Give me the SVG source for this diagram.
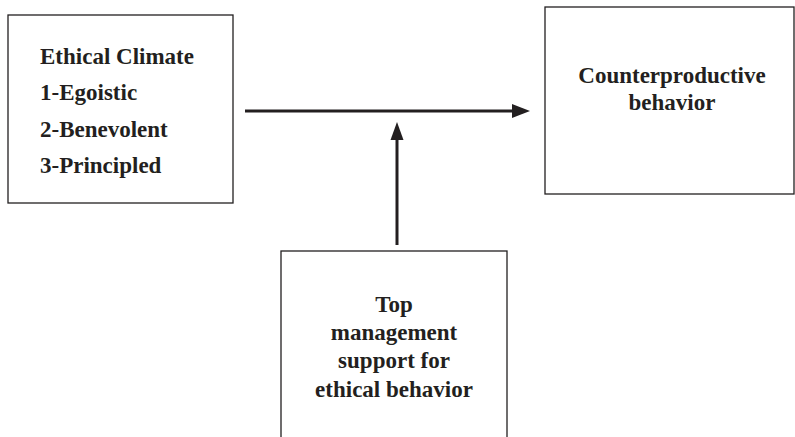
<svg xmlns="http://www.w3.org/2000/svg" width="795" height="437" viewBox="0 0 795 437">
<style>
.box{fill:#fff;stroke:#231f20;stroke-width:1.3}
.t{font-family:"Liberation Serif","Times New Roman",serif;font-weight:bold;font-size:23px;fill:#231f20}
.c{text-anchor:middle}
.ln{stroke:#231f20;stroke-width:3;fill:none}
.hd{fill:#231f20}
</style>
<rect width="795" height="437" fill="#fff"/>
<g id="ethical-climate">
<rect class="box" x="8" y="15" width="225" height="188"/>
<text class="t" x="40" y="64">Ethical Climate</text>
<text class="t" x="40" y="100">1-Egoistic</text>
<text class="t" x="40" y="137">2-Benevolent</text>
<text class="t" x="40" y="173">3-Principled</text>
</g>
<g id="counterproductive">
<rect class="box" x="545" y="7" width="249" height="187"/>
<text class="t c" x="672" y="83">Counterproductive</text>
<text class="t c" x="672" y="110">behavior</text>
</g>
<g id="top-management">
<rect class="box" x="281" y="251" width="226" height="200"/>
<text class="t c" x="394" y="312">Top</text>
<text class="t c" x="394" y="340">management</text>
<text class="t c" x="394" y="368">support for</text>
<text class="t c" x="394" y="397">ethical behavior</text>
</g>
<g id="connectors">
<line class="ln" x1="245" y1="111" x2="514" y2="111"/>
<polygon class="hd" points="530,111 512,104 512,118"/>
<line class="ln" x1="397" y1="245" x2="397" y2="138"/>
<polygon class="hd" points="397,122 390.5,140 403.5,140"/>
</g>
</svg>
